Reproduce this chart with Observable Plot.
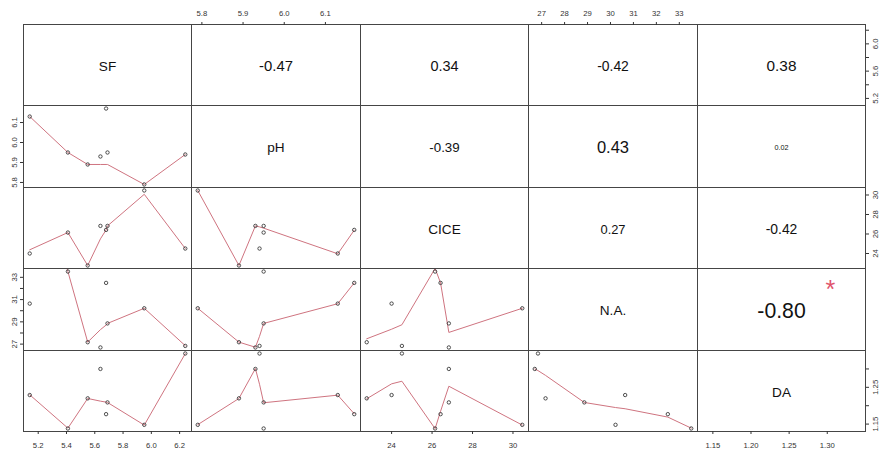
<!DOCTYPE html>
<html>
<head>
<meta charset="utf-8">
<script src="https://cdn.jsdelivr.net/npm/d3@7"></script>
<script src="https://cdn.jsdelivr.net/npm/@observablehq/plot@0.6"></script>
<style>
  html, body { margin: 0; padding: 0; background: #fff; }
  #chart { position: relative; width: 880px; height: 451px; overflow: hidden; background: #fff;
           font-family: "Liberation Sans", Arial, sans-serif; }
  #chart svg { position: absolute; }
</style>
</head>
<body>
<div id="chart"></div>
<script>
// Scatterplot matrix of five soil properties measured on eight samples.
const varNames = ["SF", "pH", "CICE", "N.A.", "DA"];
const sf   = [5.14, 5.41, 5.55, 5.64, 5.68, 5.69, 5.95, 6.24];
const ph   = [6.13, 5.95, 5.89, 5.93, 6.17, 5.95, 5.79, 5.94];
const cice = [24.0, 26.15, 22.77, 26.83, 26.42, 26.83, 30.46, 24.51];
const na   = [30.64, 33.52, 27.17, 26.70, 32.5, 28.86, 30.22, 26.84];
const da   = [1.229, 1.138, 1.220, 1.300, 1.177, 1.209, 1.148, 1.342];

// Lowess smooth of the row variable on the column variable (fitted value per sample).
const smoothPhSf     = [6.13, 5.95, 5.89, 5.89, 5.89, 5.89, 5.79, 5.94];
const smoothCiceSf   = [24.38, 26.15, 22.77, 25.5, 26.42, 26.83, 30.07, 24.51];
const smoothCicePh   = [23.97, 26.6, 22.77, 26.83, 26.39, 26.6, 30.46, 26.73];
const smoothNaSf     = [46.2, 33.52, 27.18, 28.3, 28.71, 28.86, 30.22, 26.86];
const smoothNaPh     = [30.63, 28.86, 27.18, 26.72, 32.5, 28.86, 30.22, 27.7];
const smoothNaCice   = [28.34, 33.8, 27.48, 28.05, 32.5, 28.05, 30.22, 28.74];
const smoothDaSf     = [1.2297, 1.139, 1.2197, 1.2124, 1.2097, 1.2088, 1.1473, 1.3416];
const smoothDaPh     = [1.2287, 1.208, 1.2197, 1.301, 1.178, 1.208, 1.1484, 1.2584];
const smoothDaCice   = [1.2595, 1.1375, 1.2188, 1.253, 1.1848, 1.253, 1.1473, 1.2666];
const smoothDaNa     = [1.1917, 1.139, 1.2825, 1.30, 1.169, 1.2088, 1.195, 1.2955];

// Pearson correlations shown in the upper triangle (row, column, r, significance).
const corRow    = [0, 0, 0, 0, 1, 1, 1, 2, 2, 3];
const corCol    = [1, 2, 3, 4, 2, 3, 4, 3, 4, 4];
const corValue  = [-0.47, 0.34, -0.42, 0.38, -0.39, 0.43, 0.02, 0.27, -0.42, -0.80];
const corSignif = ["", "", "", "", "", "", "", "", "", "*"];

// Axis ticks and the subset labelled on the vertical (rotated) axes.
const sfTicks   = [5.2, 5.4, 5.6, 5.8, 6.0, 6.2];
const phTicks   = [5.8, 5.9, 6.0, 6.1];
const ciceTicks = [24, 26, 28, 30];
const naTicks   = [27, 28, 29, 30, 31, 32, 33];
const daTicks   = [1.15, 1.20, 1.25, 1.30];
const sfSideLabels   = [5.2, 5.6, 6.0];
const phSideLabels   = [5.8, 5.9, 6.0, 6.1];
const ciceSideLabels = [24, 26, 28, 30];
const naSideLabels   = [27, 29, 31, 33];
const daSideLabels   = [1.15, 1.25];

// ---- assembled tables ----
const vars = [sf, ph, cice, na, da];
const ticks = [sfTicks, phTicks, ciceTicks, naTicks, daTicks];
const sideLabels = [sfSideLabels, phSideLabels, ciceSideLabels, naSideLabels, daSideLabels];
const formats = [d3.format(".1f"), d3.format(".1f"), d3.format("d"), d3.format("d"), d3.format(".2f")];
const smooths = {
  "1,0": smoothPhSf, "2,0": smoothCiceSf, "2,1": smoothCicePh,
  "3,0": smoothNaSf, "3,1": smoothNaPh, "3,2": smoothNaCice,
  "4,0": smoothDaSf, "4,1": smoothDaPh, "4,2": smoothDaCice, "4,3": smoothDaNa
};

// ---- layout & style ----
const FONT = "'Liberation Sans', Arial, sans-serif";
const gridLeft = 23, gridTop = 24, cellW = 168.4, cellH = 81.4, n = 5;
const colX = k => Math.round(gridLeft + k * cellW);
const rowY = k => Math.round(gridTop + k * cellH);
const smoothColor = "#cf7480";
const pointColor = "#3a3a3a";
const boxColor = "#454545";
const axisColor = "#333";
const signifColor = "#DF536B";
const tickFont = 7.7;
const labelFont = 13.6;
const corWidthPerUnit = 44;   // text width grows with |r| + 0.3
const starAt = 0.8;           // significance mark, in panel fractions

const chart = document.getElementById("chart");
const baseStyle = {fontFamily: FONT, background: "none", overflow: "visible"};

// 4% padding either side of the data range
function padded(v) {
  const [lo, hi] = d3.extent(v), r = hi - lo;
  return [lo - 0.04 * r, hi + 0.04 * r];
}

// advance widths of Liberation Sans glyphs, in em
const glyphW = {"-": 0.333, ".": 0.278};
const emWidth = s => [...s].reduce((a, c) => a + (glyphW[c] ?? 0.556), 0);

function place(svg, left, top) {
  svg.style.left = left + "px";
  svg.style.top = top + "px";
  chart.appendChild(svg);
}

// panels
for (let i = 0; i < n; ++i) {
  for (let j = 0; j < n; ++j) {
    const w = colX(j + 1) - colX(j), h = rowY(i + 1) - rowY(i);
    let xDomain, yDomain, marks;
    if (i > j) {
      const X = vars[j], Y = vars[i], S = smooths[`${i},${j}`];
      const order = d3.sort(d3.range(X.length), k => X[k]);
      xDomain = padded(X); yDomain = padded(Y);
      marks = [
        Plot.line(order, {x: k => X[k], y: k => S[k], stroke: smoothColor, strokeWidth: 1, clip: true}),
        Plot.dot(d3.range(X.length), {x: k => X[k], y: k => Y[k], r: 1.7, stroke: pointColor, strokeWidth: 0.9, fill: "none"})
      ];
    } else if (i === j) {
      xDomain = padded(vars[j]); yDomain = padded(vars[i]);
      marks = [
        Plot.text([varNames[i]], {text: d => d, frameAnchor: "middle", fontSize: labelFont, dy: 1.5, fill: "#111"})
      ];
    } else {
      const c = d3.range(corValue.length).find(k => corRow[k] === i && corCol[k] === j);
      const txt = corValue[c].toFixed(2);
      const size = corWidthPerUnit * (Math.abs(corValue[c]) + 0.3) / emWidth(txt);
      const fullSize = corWidthPerUnit * 1.3 / emWidth(txt);
      xDomain = [0, 1]; yDomain = [0, 1];
      marks = [
        Plot.text([txt], {text: d => d, frameAnchor: "middle", fontSize: size, dy: 1.5, fill: "#111"}),
        Plot.text([corSignif[c]], {text: d => d, x: () => starAt, y: () => starAt, fontSize: fullSize, dy: 5, dx: -1.5, fill: signifColor})
      ];
    }
    marks.push(Plot.frame({stroke: boxColor, strokeWidth: 1}));
    const svg = Plot.plot({
      width: w, height: h, margin: 0,
      x: {domain: xDomain, axis: null},
      y: {domain: yDomain, axis: null},
      style: baseStyle,
      marks
    });
    place(svg, colX(j), rowY(i));
  }
}

// outer axes: bottom for columns 1,3,5; top for 2,4; left for rows 2,4; right for rows 1,3,5
const depth = 22;
const axisText = {fontSize: tickFont, fontFamily: FONT, color: axisColor, tickSize: 3, label: null};
for (let j = 0; j < n; ++j) {
  const w = colX(j + 1) - colX(j);
  const bottom = j % 2 === 0;
  const svg = Plot.plot({
    width: w, height: depth + 1,
    marginLeft: 0, marginRight: 0,
    marginTop: bottom ? 0 : depth, marginBottom: bottom ? depth : 0,
    x: {domain: padded(vars[j]), axis: null},
    style: baseStyle,
    marks: [
      Plot.axisX({...axisText, anchor: bottom ? "bottom" : "top", ticks: ticks[j],
                  tickFormat: formats[j], tickPadding: bottom ? 8 : 6})
    ]
  });
  place(svg, colX(j), bottom ? rowY(n) - 1 : rowY(0) - depth);
}
for (let i = 0; i < n; ++i) {
  const h = rowY(i + 1) - rowY(i);
  const right = i % 2 === 0;
  const labels = sideLabels[i];
  const svg = Plot.plot({
    width: depth + 1, height: h,
    marginTop: 0, marginBottom: 0,
    marginLeft: right ? 0 : depth, marginRight: right ? depth : 0,
    y: {domain: padded(vars[i]), axis: null},
    style: baseStyle,
    marks: [
      Plot.axisY({...axisText, anchor: right ? "right" : "left", ticks: ticks[i],
                  tickFormat: d => labels.includes(d) ? formats[i](d) : "",
                  tickRotate: -90, textAnchor: "middle", lineAnchor: right ? "top" : "bottom",
                  tickPadding: 4})
    ]
  });
  place(svg, right ? colX(n) - 1 : colX(0) - depth, rowY(i));
}
</script>
</body>
</html>
